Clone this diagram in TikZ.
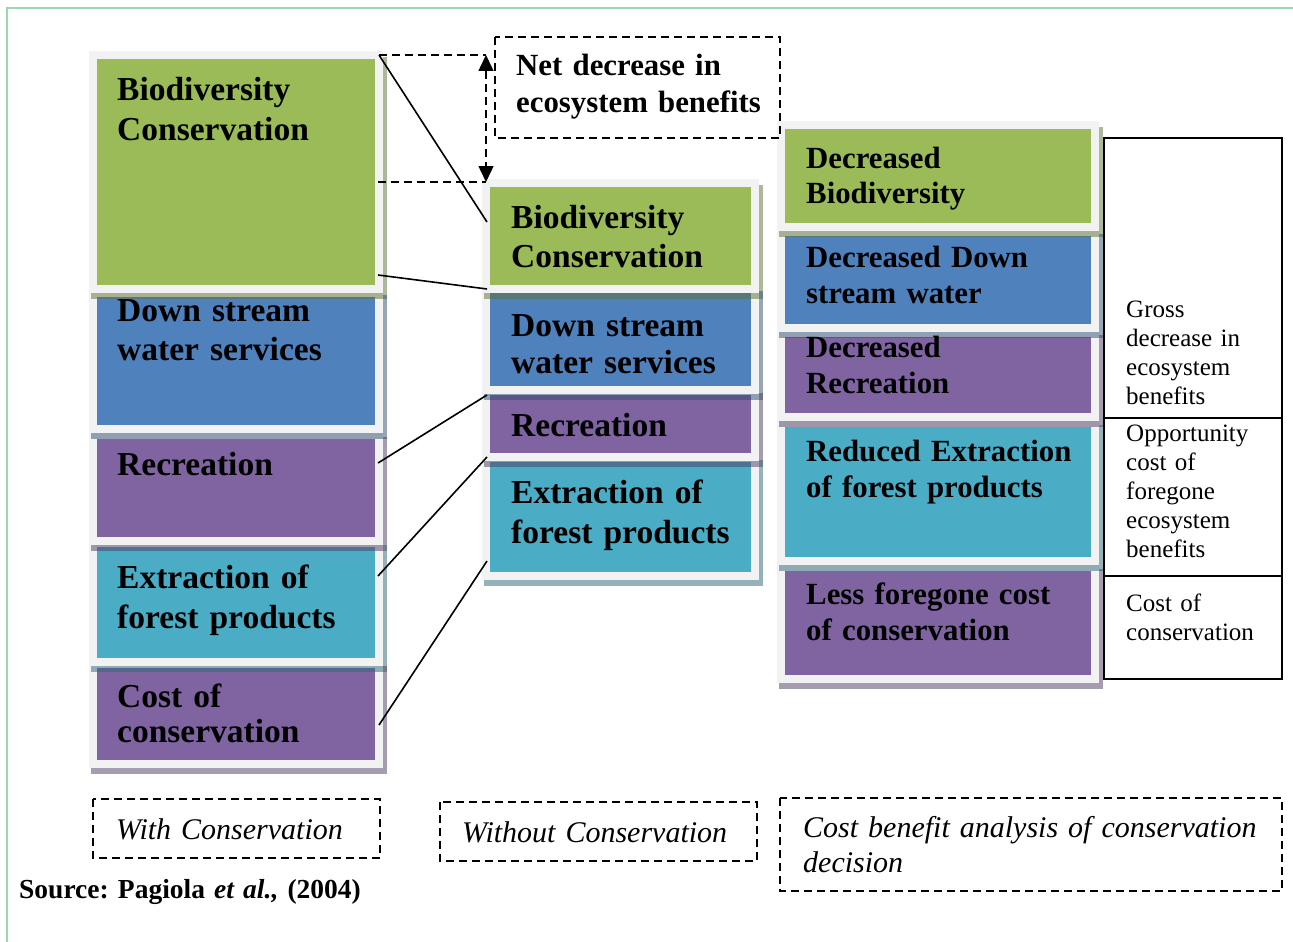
\documentclass[tikz,border=0pt]{standalone}
\usepackage{fontspec}
\setmainfont{Liberation Serif}
\usetikzlibrary{arrows.meta}
\frenchspacing
\definecolor{cgreen}{HTML}{9BBB59}
\definecolor{cblue}{HTML}{4F81BD}
\definecolor{cpurple}{HTML}{8064A2}
\definecolor{ccyan}{HTML}{4BACC6}
\definecolor{cpanel}{HTML}{F2F2F2}
\definecolor{cframe}{HTML}{9FD6B2}
\newcommand\mypanel[5]{%
  \fill[cpanel] (#1-8,#2-8) rectangle (#3+8,#4+8);
  \fill[#5] (#1,#2) rectangle (#3,#4);}
\newcommand\myshadow[5]{%
  \fill[#5!60!black, opacity=0.5] (#3+8,#2-2) rectangle (#3+12,#4+14);
  \fill[#5!60!black, opacity=0.5] (#1-6,#4+8) rectangle (#3+8,#4+14);}
\begin{document}
\begin{tikzpicture}[x=1pt,y=-1pt,
  boxtxt/.style={anchor=base west, inner sep=0pt, text width=320pt, align=left},
  bigbold/.style={font=\fontsize{33.5}{#1}\selectfont\bfseries},
  midbold/.style={font=\fontsize{30.8}{#1}\selectfont\bfseries},
  plaintxt/.style={font=\fontsize{25}{29}\selectfont},
  itxt/.style={font=\fontsize{30}{35}\selectfont\itshape},
  dsh/.style={line width=1.5pt, dash pattern=on 8pt off 5pt},
  conn/.style={line width=1.6pt}]
\useasboundingbox (0,0) rectangle (1293,942);
\fill[white] (0,0) rectangle (1293,942);
% frame
\draw[cframe, line width=1.5pt] (7,942) -- (7,8) -- (1293,8);
% left column
\mypanel{97}{59}{375}{285}{cgreen}
\mypanel{97}{297}{375}{425}{cblue}
\mypanel{97}{439}{375}{537}{cpurple}
\mypanel{97}{547}{375}{658}{ccyan}
\mypanel{97}{668}{375}{760}{cpurple}
\myshadow{97}{59}{375}{285}{cgreen}
\myshadow{97}{297}{375}{425}{cblue}
\myshadow{97}{439}{375}{537}{cpurple}
\myshadow{97}{547}{375}{658}{ccyan}
\myshadow{97}{668}{375}{760}{cpurple}
% middle column
\mypanel{490}{187}{751}{285}{cgreen}
\mypanel{490}{293}{751}{386}{cblue}
\mypanel{490}{395}{751}{453}{cpurple}
\mypanel{490}{462}{751}{572}{ccyan}
\myshadow{490}{187}{751}{285}{cgreen}
\myshadow{490}{293}{751}{386}{cblue}
\myshadow{490}{395}{751}{453}{cpurple}
\myshadow{490}{462}{751}{572}{ccyan}
% right column
\mypanel{785}{129}{1091}{223}{cgreen}
\mypanel{785}{236}{1091}{324}{cblue}
\mypanel{785}{337}{1091}{413}{cpurple}
\mypanel{785}{427}{1091}{557}{ccyan}
\mypanel{785}{571}{1091}{675}{cpurple}
\myshadow{785}{129}{1091}{223}{cgreen}
\myshadow{785}{236}{1091}{324}{cblue}
\myshadow{785}{337}{1091}{413}{cpurple}
\myshadow{785}{427}{1091}{557}{ccyan}
\myshadow{785}{571}{1091}{675}{cpurple}
% texts left
\node[boxtxt, bigbold=40] (tLBio) at (117,100) {Biodiversity\\Conservation};
\node[boxtxt, bigbold=39] (tLDown) at (117,321) {Down stream\\water services};
\node[boxtxt, bigbold=40] (tLRec) at (117,475) {Recreation};
\node[boxtxt, bigbold=40] (tLExt) at (117,588) {Extraction of\\forest products};
\node[boxtxt, bigbold=35] (tLCost) at (117,707) {Cost of\\conservation};
% texts middle
\node[boxtxt, bigbold=39] (tMBio) at (511,228) {Biodiversity\\Conservation};
\node[boxtxt, bigbold=37] (tMDown) at (511,336) {Down stream\\water services};
\node[boxtxt, bigbold=40] (tMRec) at (511,436) {Recreation};
\node[boxtxt, bigbold=40] (tMExt) at (511,503) {Extraction of\\forest products};
% texts right
\node[boxtxt, midbold=35] (tRBio) at (806,168) {Decreased\\Biodiversity};
\node[boxtxt, midbold=36] (tRDown) at (806,267) {Decreased Down\\stream water};
\node[boxtxt, midbold=36] (tRRec) at (806,357) {Decreased\\Recreation};
\node[boxtxt, midbold=36] (tRExt) at (806,461) {Reduced Extraction\\of forest products};
\node[boxtxt, midbold=36] (tRLess) at (806,604) {Less foregone cost\\of conservation};
% table
\draw[line width=1.6pt] (1104,138) rectangle (1282,679);
\draw[line width=1.6pt] (1104,418) -- (1282,418);
\draw[line width=1.6pt] (1104,576) -- (1282,576);
\node[boxtxt, plaintxt] (tGross) at (1126,317) {Gross\\decrease in\\ecosystem\\benefits};
\node[boxtxt, plaintxt] (tOpp) at (1126,441) {Opportunity\\cost of\\foregone\\ecosystem\\benefits};
\node[boxtxt, plaintxt] (tCostT) at (1126,611) {Cost of\\conservation};
% net decrease box and arrow
\draw[dsh] (495,37) rectangle (780,138);
\node[boxtxt, midbold=36] (tNet) at (516,76) {Net decrease in\\ecosystem benefits};
\coordinate (dTL) at (379,55);
\coordinate (dTR) at (486,55);
\coordinate (dBL) at (378,182);
\coordinate (dBR) at (486,182);
\draw[dsh] (dTL) -- (dTR);
\draw[dsh] (dBL) -- (dBR);
\draw[dsh, {Triangle[width=15pt,length=16pt]}-{Triangle[width=15pt,length=16pt]}] (dTR) -- (dBR);
% connectors
\coordinate (a1) at (379,55);  \coordinate (b1) at (487,222);
\coordinate (a2) at (378,275); \coordinate (b2) at (487,289);
\coordinate (a3) at (378,463); \coordinate (b3) at (487,395);
\coordinate (a4) at (378,576); \coordinate (b4) at (487,457);
\coordinate (a5) at (379,725); \coordinate (b5) at (487,561);
\draw[conn] (a1) -- (b1);
\draw[conn] (a2) -- (b2);
\draw[conn] (a3) -- (b3);
\draw[conn] (a4) -- (b4);
\draw[conn] (a5) -- (b5);
% bottom labels
\draw[dsh] (93,799) rectangle (380,858);
\node[boxtxt, itxt] (tWith) at (116,839) {With Conservation};
\draw[dsh] (440,802) rectangle (757,861);
\node[boxtxt, itxt] (tWithout) at (462,842) {Without Conservation};
\draw[dsh] (780,798) rectangle (1282,891);
\node[boxtxt, itxt, text width=480pt] (tCB) at (803,837) {Cost benefit analysis of conservation\\decision};
\node[boxtxt, text width=600pt, font=\fontsize{27.5}{32}\selectfont\bfseries] (tSrc) at (19,898) {Source: Pagiola \textit{et al.,} (2004)};
\end{tikzpicture}
\end{document}
